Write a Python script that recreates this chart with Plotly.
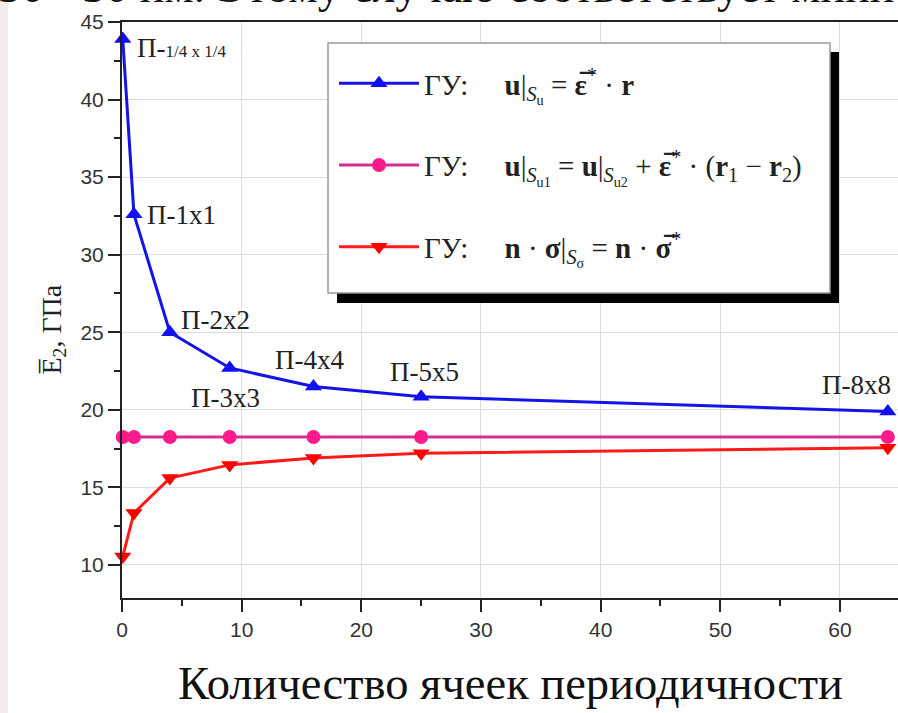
import plotly.graph_objects as go

# ---------------- data ----------------
cells = [0.0625, 1, 4, 9, 16, 25, 64]
E_u = [43.9, 32.6, 25.0, 22.7, 21.5, 20.85, 19.9]          # ГУ: u|Su = ε*·r
E_periodic = [18.25, 18.25, 18.25, 18.25, 18.25, 18.25, 18.25]  # periodic BC
E_sigma = [10.55, 13.35, 15.6, 16.45, 16.9, 17.2, 17.55]    # ГУ: n·σ = n·σ*

point_labels = ["П-<span style='font-size:17px'>1/4 x 1/4</span>", "П-1x1", "П-2x2",
                "П-3x3", "П-4x4", "П-5x5", "П-8x8"]
label_x = [1.09, 1.92, 4.76, 5.6, 12.6, 22.2, 58.3]
label_y = [43.3, 32.56, 25.8, 20.76, 23.2, 22.43, 21.6]

x_ticks = [0, 10, 20, 30, 40, 50, 60]
y_ticks = [10, 15, 20, 25, 30, 35, 40, 45]

legend_names = [
    "ГУ:\u2003 <b>u</b>|<sub><i>S</i><sub>u</sub></sub> = <b>ε\u0305</b><sup>*</sup> · <b>r</b>",
    "ГУ:\u2003 <b>u</b>|<sub><i>S</i><sub>u1</sub></sub> = <b>u</b>|<sub><i>S</i><sub>u2</sub></sub> + <b>ε\u0305</b><sup>*</sup> · (<b>r</b><sub>1</sub> − <b>r</b><sub>2</sub>)",
    "ГУ:\u2003 <b>n</b> · <b>σ</b>|<sub><i>S</i><sub>σ</sub></sub> = <b>n</b> · <b>σ\u0305</b><sup>*</sup>",
]

SERIF = "Liberation Serif"
SANS = "Liberation Sans"

# plot area geometry (pixels)
L, T, B, W, H = 122, 22, 115, 898, 713
PW = W - L
PH = H - T - B


def px(xp):
    return (xp - L) / PW


def py(yp):
    return (H - B - yp) / PH


fig = go.Figure()

fig.add_trace(go.Scatter(
    x=cells, y=E_u, mode="lines+markers", name=legend_names[0],
    legendgroup="a",
    line=dict(color="#1414e6", width=3),
    marker=dict(symbol="triangle-up", size=15, color="#1010f0"),
    cliponaxis=False))
fig.add_trace(go.Scatter(
    x=cells, y=E_periodic, mode="lines+markers", name=legend_names[1],
    legendgroup="b",
    line=dict(color="#d42d95", width=3),
    marker=dict(symbol="circle", size=14, color="#ff1a8c"),
    cliponaxis=False))
fig.add_trace(go.Scatter(
    x=cells, y=E_sigma, mode="lines+markers", name=legend_names[2],
    legendgroup="c",
    line=dict(color="#ff1a1a", width=3),
    marker=dict(symbol="triangle-down", size=15, color="#ff0000"),
    cliponaxis=False))

annotations = []
for t, lx, ly in zip(point_labels, label_x, label_y):
    annotations.append(dict(x=lx, y=ly, xref="x", yref="y", text=t, showarrow=False,
                            xanchor="left", yanchor="middle",
                            font=dict(family=SERIF, size=27, color="#222")))

# axis titles
annotations.append(dict(x=px(33), y=py(330), xref="paper", yref="paper",
                        text="E\u0305<sub>2</sub>, ГПа", textangle=-90, showarrow=False,
                        font=dict(family=SERIF, size=28, color="#222")))
annotations.append(dict(x=px(510), y=py(683), xref="paper", yref="paper",
                        text="Количество ячеек периодичности", showarrow=False,
                        xanchor="center", yanchor="middle",
                        font=dict(family=SERIF, size=46.5, color="#111")))
# text of the page above, cut off
annotations.append(dict(x=px(-4), y=py(14), xref="paper", yref="paper",
                        text="30 - 30 нм. Этому случаю соответствует мини", showarrow=False,
                        xanchor="left", yanchor="bottom",
                        font=dict(family=SERIF, size=46, color="#111")))

shapes = [
    # page tint at left edge
    dict(type="rect", xref="paper", yref="paper", x0=px(0), x1=px(8), y0=py(H), y1=py(0),
         fillcolor="#f6eaea", line=dict(width=0), layer="below"),
    # legend shadow
    dict(type="rect", xref="paper", yref="paper", x0=px(337), x1=px(839), y0=py(303), y1=py(52),
         fillcolor="#000", line=dict(width=0), layer="above"),
    # legend box
    dict(type="rect", xref="paper", yref="paper", x0=px(328), x1=px(830), y0=py(293), y1=py(43),
         fillcolor="#fff", line=dict(color="#999", width=1.5), layer="above"),
]

fig.update_layout(
    width=W, height=H,
    margin=dict(l=L, r=0, t=T, b=B),
    paper_bgcolor="white", plot_bgcolor="white",
    showlegend=True,
    legend=dict(x=px(334), y=py(58), xanchor="left", yanchor="top",
                bgcolor="rgba(0,0,0,0)", borderwidth=0,
                traceorder="grouped", tracegroupgap=41, itemwidth=80,
                font=dict(family=SERIF, size=29, color="#222")),
    annotations=annotations,
    shapes=shapes,
    xaxis=dict(range=[0, 64.85], tickvals=x_ticks, ticks="outside", ticklen=12, tickwidth=1.5,
               tickcolor="#222", showline=True, linecolor="#222", linewidth=2, mirror=True,
               showgrid=True, gridcolor="#dcdcdc", gridwidth=1, zeroline=False,
               tickfont=dict(family=SANS, size=21, color="#333"),
               minor=dict(dtick=5, tick0=0, ticks="outside", ticklen=6, tickcolor="#222",
                          showgrid=False)),
    yaxis=dict(range=[7.87, 45], tickvals=y_ticks, ticks="outside", ticklen=12, tickwidth=1.5,
               tickcolor="#222", showline=True, linecolor="#222", linewidth=2,
               showgrid=True, gridcolor="#dcdcdc", gridwidth=1, zeroline=False,
               tickfont=dict(family=SANS, size=21, color="#333"),
               minor=dict(dtick=2.5, tick0=0, ticks="outside", ticklen=6, tickcolor="#222",
                          showgrid=False)),
)

fig.write_html("out.html")
